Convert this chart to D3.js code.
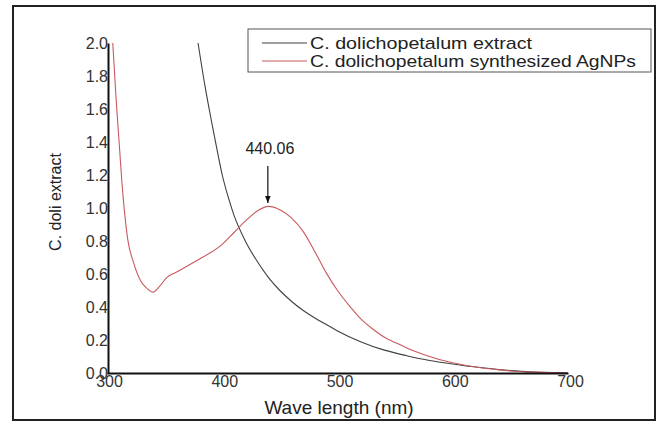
<!DOCTYPE html>
<html><head><meta charset="utf-8">
<script src="https://cdn.jsdelivr.net/npm/d3@7"></script>
<style>body{margin:0;background:#fff}svg{display:block;font-family:"Liberation Sans",Arial,sans-serif}</style>
</head><body><svg id="c" width="659" height="421"></svg>
<script>
const xTicks = [300, 400, 500, 600, 700];
const yTicks = [0.0, 0.2, 0.4, 0.6, 0.8, 1.0, 1.2, 1.4, 1.6, 1.8, 2.0];
const seriesNames = ["C. dolichopetalum extract", "C. dolichopetalum synthesized AgNPs"];
const extractWl = [379, 385, 390, 395, 400, 405, 410, 420, 430, 440, 450, 460, 470, 480, 490, 500, 520, 540, 560, 580, 600, 620, 640, 660, 680, 700];
const extractAbs = [2.0, 1.74, 1.55, 1.37, 1.20, 1.07, 0.96, 0.80, 0.68, 0.58, 0.50, 0.435, 0.38, 0.335, 0.295, 0.255, 0.19, 0.14, 0.105, 0.076, 0.055, 0.036, 0.021, 0.01, 0.004, 0.0];
const agnpWl = [305, 308, 311, 313, 315, 318, 323, 329, 335, 340, 345, 352, 360, 370, 380, 390, 400, 410, 420, 430, 440, 450, 460, 470, 480, 490, 500, 510, 520, 530, 540, 550, 560, 570, 580, 590, 600, 620, 640, 660, 680, 700];
const agnpAbs = [2.0, 1.65, 1.35, 1.15, 0.99, 0.81, 0.67, 0.56, 0.51, 0.49, 0.52, 0.58, 0.61, 0.65, 0.69, 0.73, 0.78, 0.85, 0.92, 0.98, 1.01, 0.99, 0.94, 0.86, 0.74, 0.61, 0.50, 0.41, 0.33, 0.27, 0.22, 0.185, 0.152, 0.124, 0.10, 0.079, 0.062, 0.036, 0.019, 0.008, 0.003, 0.0];
const peakLabel = "440.06";
const peakWl = 440;
const colors = ["#404040", "#c85a5e"];

const svg = d3.select("#c");
svg.append("rect").attr("x",13).attr("y",6).attr("width",642).attr("height",414)
  .attr("fill","#fff").attr("stroke","#222").attr("stroke-width",2);

const x = d3.scaleLinear().domain([300,700]).range([107,568]);
const y = d3.scaleLinear().domain([0,2]).range([373,43]);

const line = d3.line().x(d=>x(d[0])).y(d=>y(d[1])).curve(d3.curveMonotoneX);
const ext = extractWl.map((w,i)=>[w,extractAbs[i]]);
const ag = agnpWl.map((w,i)=>[w,agnpAbs[i]]);
svg.append("path").attr("d",line(ext)).attr("fill","none").attr("stroke",colors[0]).attr("stroke-width",1.1);
svg.append("path").attr("d",line(ag)).attr("fill","none").attr("stroke",colors[1]).attr("stroke-width",1.1);

// axes
const gx = svg.append("g").attr("transform","translate(0,373)")
  .call(d3.axisBottom(x).tickValues(xTicks).tickSize(0).tickPadding(3).tickFormat(d3.format("d")));
const gy = svg.append("g").attr("transform","translate(108,0)")
  .call(d3.axisLeft(y).tickValues(yTicks).tickSize(0).tickPadding(0).tickFormat(d3.format(".1f")));
[gx,gy].forEach(g=>{
  g.select(".domain").attr("stroke","#111").attr("stroke-width",2);
  g.selectAll("text").attr("font-size",16).attr("fill","#333").attr("font-family","Liberation Sans, Arial, sans-serif");
});
gx.selectAll("text").attr("dx",2);

// axis titles
svg.append("text").attr("x",339).attr("y",414).attr("text-anchor","middle")
  .attr("font-size",19).attr("fill","#222").text("Wave length (nm)");
svg.append("text").attr("transform","translate(61,202) rotate(-90)").attr("text-anchor","middle")
  .attr("font-size",16).attr("fill","#222").text("C. doli extract");

// annotation
svg.append("defs").append("marker").attr("id","ah").attr("viewBox","0 0 10 10").attr("refX",10).attr("refY",5)
  .attr("markerWidth",6).attr("markerHeight",6).attr("orient","auto")
  .append("path").attr("d","M0,1 L10,5 L0,9 z").attr("fill","#111");
const px = x(peakWl)-0.5;
svg.append("line").attr("x1",px).attr("x2",px).attr("y1",166).attr("y2",203)
  .attr("stroke","#111").attr("stroke-width",1.2).attr("marker-end","url(#ah)");
svg.append("text").attr("x",px+2).attr("y",154).attr("text-anchor","middle")
  .attr("font-size",16).attr("fill","#222").text(peakLabel);

// legend
svg.append("rect").attr("x",248).attr("y",29).attr("width",403).attr("height",43)
  .attr("fill","#fff").attr("stroke","#555").attr("stroke-width",1);
const legLen = [222, 326];
seriesNames.forEach((n,i)=>{
  const ly = 43 + i*18;
  svg.append("line").attr("x1",262).attr("x2",307).attr("y1",ly).attr("y2",ly)
    .attr("stroke",colors[i]).attr("stroke-width",1.1);
  svg.append("text").attr("x",310).attr("y",ly+6).attr("font-size",17).attr("fill","#222")
    .attr("textLength",legLen[i]).attr("lengthAdjust","spacingAndGlyphs").text(n);
});
</script></body></html>
